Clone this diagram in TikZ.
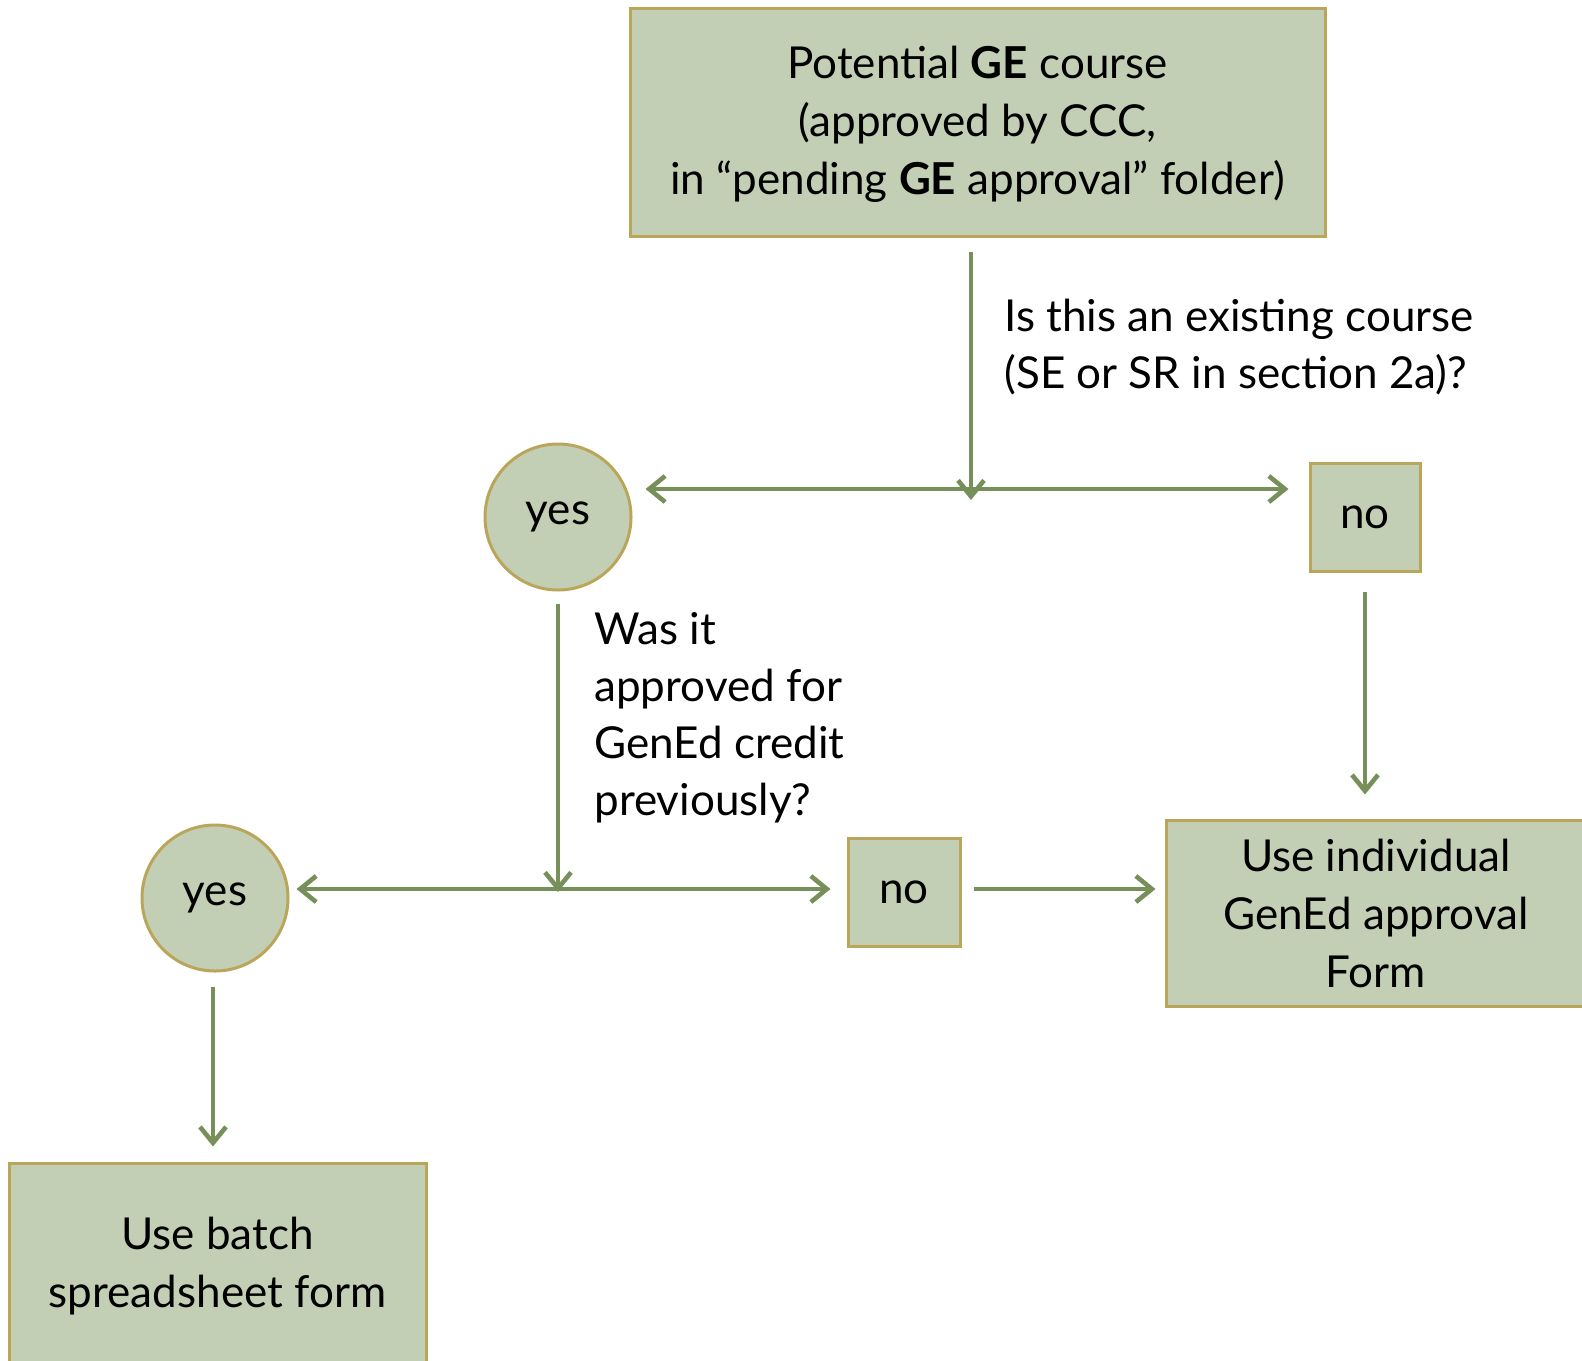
\documentclass[tikz,border=0pt]{standalone}
\usepackage{fontspec}
\setmainfont{Lato}
\usetikzlibrary{arrows.meta}
\usetikzlibrary{positioning}
\definecolor{boxfill}{RGB}{195,207,180}
\definecolor{boxline}{RGB}{186,166,90}
\definecolor{flowline}{RGB}{119,144,90}
\tikzset{
    block/.style = {draw=boxline, fill=boxfill, line width=1.5pt,
                 inner sep=0pt, align=center},
    answer/.style = {block, circle, minimum size=73pt},
    choice/.style = {block, minimum width=55pt, minimum height=54pt},
    question/.style = {align=left, inner sep=0pt, font=\fontsize{22}{28.5}\selectfont},
    flow/.style = {draw=flowline, line width=2.3pt},
}

\begin{document}
\begin{tikzpicture}[x=0.5pt,y=-0.5pt,-{Straight Barb[length=8pt,width=13pt]},
    font=\fontsize{22}{29}\selectfont]
\useasboundingbox (0,0) rectangle (1582,1360);
\node (course) [block, -, minimum width=347.5pt, minimum height=114pt] at (977.5,122)
 {\rule{0pt}{19pt}Potential \textbf{GE} course\\ (approved by CCC,\\ in “pending \textbf{GE} approval” folder)};
\node (yesone) [answer, -] at (558,517) {yes};
\node (noone)  [choice, -] at (1365,517) {no};
\node (yestwo) [answer, -] at (215,898) {yes};
\node (notwo)  [choice, -, minimum width=56pt] at (904,892.5) {no};
\node (indiv)  [block, -, minimum width=210pt, minimum height=93pt] at (1376,913)
 {Use individual\\ GenEd approval\\ Form};
\node (batch)  [block, -, minimum width=208.5pt, minimum height=103.5pt] at (217.5,1266.5)
 {Use batch\\ spreadsheet form};

\node (existq) [question, anchor=west, -] at (1004,347)
 {Is this an existing course\\ (SE or SR in section 2a)?};
\node (gened) [question, anchor=west, -] at (594,718)
 {Was it\\ approved for\\ GenEd credit\\ previously?};

\coordinate (forkone) at (971,489);
\coordinate (forktwo) at (558,889);

\draw[flow, shorten <=7pt] (course.south -| forkone) to ([yshift=-5.5pt]forkone);
\draw[flow, shorten >=6.5pt] ([xshift=-1pt]forkone) to (forkone -| yesone.east);
\draw[flow, shorten >=10pt] ([xshift=1pt]forkone) to (forkone -| noone.west);
\draw[flow, shorten <=9.5pt, shorten >=12pt] (noone.south) to (noone.south |- indiv.north);
\draw[flow, shorten <=6pt] (yesone.south) to ([yshift=-1.5pt]forktwo);
\draw[flow, shorten >=3.5pt] (forktwo) to (forktwo -| yestwo.east);
\draw[flow, shorten >=8pt] (forktwo) to (forktwo -| notwo.west);
\draw[flow, shorten <=6pt, shorten >=4.5pt] (notwo.east |- forktwo) to (forktwo -| indiv.west);
\draw[flow, shorten <=7pt, shorten >=7.5pt] (yestwo.south -| 213,0) to (batch.north -| 213,0);
\end{tikzpicture}
\end{document}
